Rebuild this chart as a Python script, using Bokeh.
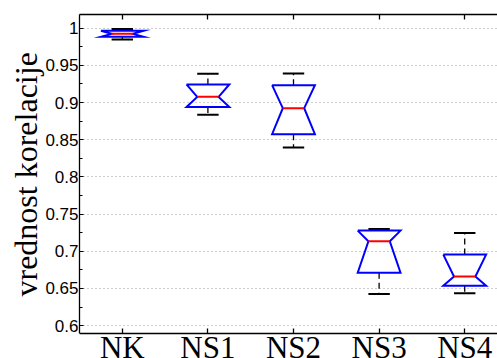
import numpy as np
from bokeh.plotting import figure
from bokeh.models import Range1d, LinearAxis, FixedTicker, Title
from bokeh.embed import file_html
from bokeh.resources import INLINE

# ---- data ----
categories = ["NK", "NS1", "NS2", "NS3", "NS4"]
upper_whisker = [0.9987, 0.9385, 0.9391, 0.7300, 0.7246]
q3 = [0.9964, 0.9243, 0.9233, 0.7278, 0.6956]
median = [0.9923, 0.9076, 0.8924, 0.7134, 0.6660]
q1 = [0.9883, 0.8941, 0.8574, 0.6713, 0.6538]
lower_whisker = [0.9848, 0.8834, 0.8395, 0.6425, 0.6435]
y_ticks = [0.6, 0.65, 0.7, 0.75, 0.8, 0.85, 0.9, 0.95, 1.0]
y_tick_labels = ["0.6", "0.65", "0.7", "0.75", "0.8", "0.85", "0.9", "0.95", "1"]
y_minor_ticks = [0.625, 0.675, 0.725, 0.775, 0.825, 0.875, 0.925, 0.975]
y_label = "vrednost korelacije"

pos = list(range(1, len(categories) + 1))
BW = 0.25   # box half width
NW = 0.125  # notch / cap half width

Y_LO, Y_HI = 0.5895, 1.0183          # visible axis box
Y_FRAME_LO = Y_LO - 25 / 744.0       # frame extends under the axis for the labels

p = figure(width=497, height=358, output_backend="svg", toolbar_location=None,
           title=None, x_range=Range1d(0.5, 5.383), y_range=Range1d(Y_FRAME_LO, Y_HI),
           min_border_left=79, min_border_right=0, min_border_top=14, min_border_bottom=0,
           x_axis_location="below", y_axis_location="left")
p.outline_line_color = None
p.background_fill_color = "white"
p.border_fill_color = "white"

# bottom axis drawn at the bottom of the box, with the category names
xa = p.xaxis[0]
xa.fixed_location = Y_LO
xa.ticker = FixedTicker(ticks=pos, minor_ticks=[])
xa.major_label_overrides = {c: n for c, n in zip(pos, categories)}
xa.major_label_text_font = "Liberation Serif"
xa.major_label_text_font_size = "31px"
xa.major_label_text_color = "black"
xa.major_label_standoff = -4
xa.major_tick_in = 5
xa.major_tick_out = 0
xa.minor_tick_line_color = None
xa.axis_line_width = 1.3
xa.axis_line_color = "black"
xa.major_tick_line_width = 1.3
xa.major_tick_line_color = "black"

# top axis (box top), ticks only
top = LinearAxis(ticker=FixedTicker(ticks=pos, minor_ticks=[]))
top.major_label_overrides = {c: "" for c in pos}
top.major_label_text_font_size = "1px"
top.major_label_standoff = 0
top.major_tick_in = 5
top.major_tick_out = 0
top.minor_tick_line_color = None
top.axis_line_width = 1.3
top.axis_line_color = "black"
top.major_tick_line_width = 1.3
top.major_tick_line_color = "black"
p.add_layout(top, "above")

ya = p.yaxis[0]
ya.bounds = (Y_LO, Y_HI)
ya.ticker = FixedTicker(ticks=y_ticks, minor_ticks=y_minor_ticks)
ya.major_label_overrides = {v: s for v, s in zip(y_ticks, y_tick_labels)}
ya.major_label_text_font = "Liberation Sans"
ya.major_label_text_font_size = "17px"
ya.major_label_text_color = "black"
ya.major_label_standoff = 1
ya.major_tick_in = 4
ya.major_tick_out = 0
ya.minor_tick_in = 3
ya.minor_tick_out = 0
ya.axis_line_width = 1.3
ya.axis_line_color = "black"
ya.major_tick_line_color = "black"
ya.minor_tick_line_color = "black"

p.add_layout(Title(text=y_label, align="left", offset=62, standoff=-3,
                   vertical_align="bottom", text_font="Liberation Serif",
                   text_font_size="32px", text_font_style="normal",
                   text_color="black"), "left")

p.xgrid.grid_line_color = None
p.ygrid.ticker = FixedTicker(ticks=y_ticks)
p.ygrid.grid_line_color = "#9a9a9a"
p.ygrid.grid_line_dash = "1 3"
p.ygrid.grid_line_width = 1

# whiskers
p.segment(x0=pos, x1=pos, y0=q3, y1=upper_whisker, line_color="black",
          line_width=1.3, line_dash="6 4")
p.segment(x0=pos, x1=pos, y0=q1, y1=lower_whisker, line_color="black",
          line_width=1.3, line_dash="6 4")
# caps
p.segment(x0=[c - NW for c in pos], x1=[c + NW for c in pos], y0=upper_whisker,
          y1=upper_whisker, line_color="black", line_width=2)
p.segment(x0=[c - NW for c in pos], x1=[c + NW for c in pos], y0=lower_whisker,
          y1=lower_whisker, line_color="black", line_width=2)

# notched boxes
xs, ys = [], []
for c, a, m, b in zip(pos, q3, median, q1):
    xs.append([c - BW, c - NW, c - BW, c + BW, c + NW, c + BW, c - BW])
    ys.append([a, m, b, b, m, a, a])
p.multi_line(xs=xs, ys=ys, line_color="#0000ff", line_width=2, line_join="miter")

# medians
p.segment(x0=[c - NW for c in pos], x1=[c + NW for c in pos], y0=median, y1=median,
          line_color="#ff0000", line_width=2)

open("out.html", "w").write(file_html(p, INLINE))
